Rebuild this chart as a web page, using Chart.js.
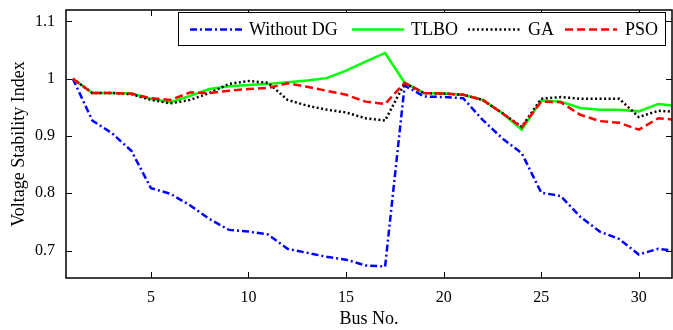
<!DOCTYPE html>
<html>
<head>
<meta charset="utf-8">
<script src="https://cdn.jsdelivr.net/npm/chart.js@4"></script>
<style>
  html, body { margin: 0; padding: 0; background: #fff; }
  #wrap { width: 673px; height: 330px; }
</style>
</head>
<body>
<div id="wrap"><canvas id="vsiChart" width="673" height="330"></canvas></div>
<script>
// Bus numbers (the last one lies just past the right edge of the axes)
let busNo = [1, 2, 3, 4, 5, 6, 7, 8, 9, 10, 11, 12, 13, 14, 15, 16, 17, 18, 19, 20, 21, 22, 23, 24, 25, 26, 27, 28, 29, 30, 31, 32];

// Voltage stability index
let withoutDG = [1.000, 0.927, 0.905, 0.874, 0.809, 0.799, 0.779, 0.755, 0.736, 0.733, 0.728, 0.703, 0.696, 0.689, 0.684, 0.674, 0.672,
                 0.988, 0.969, 0.968, 0.966, 0.928, 0.896, 0.870, 0.801, 0.795, 0.759, 0.733, 0.720, 0.693, 0.703, 0.699];
let tlbo      = [1.000, 0.975, 0.975, 0.974, 0.965, 0.959, 0.970, 0.982, 0.987, 0.989, 0.991, 0.994, 0.997, 1.001, 1.014, 1.030, 1.045,
                 0.993, 0.975, 0.974, 0.972, 0.963, 0.940, 0.911, 0.962, 0.960, 0.949, 0.946, 0.946, 0.943, 0.956, 0.952];
let ga        = [1.000, 0.975, 0.975, 0.973, 0.963, 0.957, 0.963, 0.975, 0.991, 0.996, 0.993, 0.963, 0.953, 0.946, 0.941, 0.931, 0.927,
                 0.992, 0.975, 0.974, 0.972, 0.963, 0.940, 0.916, 0.965, 0.968, 0.965, 0.965, 0.965, 0.933, 0.944, 0.942];
let pso       = [1.000, 0.975, 0.975, 0.974, 0.966, 0.963, 0.976, 0.975, 0.979, 0.982, 0.984, 0.992, 0.986, 0.979, 0.972, 0.960, 0.956,
                 0.993, 0.975, 0.974, 0.972, 0.963, 0.940, 0.915, 0.960, 0.959, 0.937, 0.926, 0.923, 0.911, 0.931, 0.928];

// Tick values
let xTicks = [5, 10, 15, 20, 25, 30];
let yTicks = [0.7, 0.8, 0.9, 1.0, 1.1];

let serif = '"Liberation Serif", "Times New Roman", serif';

// Turn a value list into {x, y} points
let toPoints = (vals) => busNo.map((b, i) => ({ x: b, y: vals[i] }));

// Series styles, in legend order
let series = [
  { label: 'Without DG', data: withoutDG, color: '#0000ff', dash: [7, 3, 2, 3], order: 4 },
  { label: 'TLBO',       data: tlbo,      color: '#00ff00', dash: [],           order: 3 },
  { label: 'GA',         data: ga,        color: '#000000', dash: [2, 2.5],     order: 2 },
  { label: 'PSO',        data: pso,       color: '#ff0000', dash: [8, 4],       order: 1 }
];

// Plugin: white background, box around the axes, inward ticks on all four sides, legend box
let boxPlugin = {
  id: 'boxPlugin',
  beforeDraw(chart) {
    let ctx = chart.ctx;
    ctx.save();
    ctx.fillStyle = '#fff';
    ctx.fillRect(0, 0, chart.width, chart.height);
    ctx.restore();
  },
  afterDraw(chart) {
    let ctx = chart.ctx;
    let a = chart.chartArea;
    let xs = chart.scales.x;
    let ys = chart.scales.y;
    let tl = 6;
    ctx.save();
    ctx.strokeStyle = '#000';
    ctx.lineWidth = 1;
    ctx.setLineDash([]);
    ctx.beginPath();
    xTicks.forEach(v => {
      let px = Math.round(xs.getPixelForValue(v)) + 0.5;
      ctx.moveTo(px, a.bottom); ctx.lineTo(px, a.bottom - tl);
      ctx.moveTo(px, a.top); ctx.lineTo(px, a.top + tl);
    });
    yTicks.forEach(v => {
      let py = Math.round(ys.getPixelForValue(v)) + 0.5;
      ctx.moveTo(a.left, py); ctx.lineTo(a.left + tl, py);
      ctx.moveTo(a.right, py); ctx.lineTo(a.right - tl, py);
    });
    ctx.stroke();
    ctx.lineWidth = 1.5;
    ctx.strokeRect(a.left, a.top, a.right - a.left, a.bottom - a.top);

    // Legend
    let lx = 178.5, ly = 12.5, lw = 487, lh = 33;
    ctx.fillStyle = '#fff';
    ctx.fillRect(lx, ly, lw, lh);
    ctx.lineWidth = 1;
    ctx.strokeRect(lx, ly, lw, lh);
    let cy = ly + lh / 2 + 0.5;
    let items = [
      { s: series[0], x0: 190, x1: 243, tx: 249 },
      { s: series[1], x0: 352, x1: 404, tx: 411 },
      { s: series[2], x0: 468, x1: 521, tx: 528 },
      { s: series[3], x0: 565, x1: 617, tx: 625 }
    ];
    ctx.font = '18px ' + serif;
    ctx.textBaseline = 'middle';
    items.forEach(it => {
      ctx.strokeStyle = it.s.color;
      ctx.lineWidth = 2.5;
      ctx.setLineDash(it.s.dash);
      ctx.beginPath();
      ctx.moveTo(it.x0, cy);
      ctx.lineTo(it.x1, cy);
      ctx.stroke();
      ctx.setLineDash([]);
      ctx.fillStyle = '#000';
      ctx.fillText(it.s.label, it.tx, cy + 1);
    });
    ctx.restore();
  }
};

let ctx = document.getElementById('vsiChart').getContext('2d');
let vsiChart = new Chart(ctx, {
  type: 'line',
  data: {
    datasets: series.map(s => ({
      label: s.label,
      data: toPoints(s.data),
      borderColor: s.color,
      backgroundColor: s.color,
      borderWidth: 2.5,
      borderDash: s.dash,
      pointRadius: 0,
      tension: 0,
      fill: false,
      clip: 0,
      order: s.order
    }))
  },
  options: {
    responsive: false,
    animation: false,
    devicePixelRatio: 1,
    layout: { padding: { left: 0, right: 1, top: 10, bottom: 0 } },
    plugins: {
      legend: { display: false },
      tooltip: { enabled: false }
    },
    scales: {
      x: {
        type: 'linear',
        min: 0.65,
        max: 31.7,
        grid: { display: false },
        border: { display: false },
        afterBuildTicks: (scale) => { scale.ticks = xTicks.map(v => ({ value: v })); },
        afterFit: (scale) => {
          scale.height = 52;
          scale.paddingLeft = 0;
          scale.paddingRight = 0;
        },
        ticks: {
          color: '#000',
          font: { family: serif, size: 16 },
          padding: 2,
          maxRotation: 0,
          callback: (v) => String(v)
        },
        title: {
          display: true,
          text: 'Bus No.',
          color: '#000',
          font: { family: serif, size: 18 },
          padding: { top: 0, bottom: 0 }
        }
      },
      y: {
        type: 'linear',
        min: 0.652,
        max: 1.12,
        grid: { display: false },
        border: { display: false },
        afterBuildTicks: (scale) => { scale.ticks = yTicks.map(v => ({ value: v })); },
        afterFit: (scale) => {
          scale.width = 66;
          scale.paddingTop = 0;
          scale.paddingBottom = 0;
        },
        ticks: {
          color: '#000',
          font: { family: serif, size: 16 },
          padding: 3,
          callback: (v) => String(+v.toFixed(1))
        },
        title: {
          display: true,
          text: 'Voltage Stability Index',
          color: '#000',
          font: { family: serif, size: 18 },
          padding: { top: 8, bottom: 0 }
        }
      }
    }
  },
  plugins: [boxPlugin]
});
</script>
</body>
</html>
